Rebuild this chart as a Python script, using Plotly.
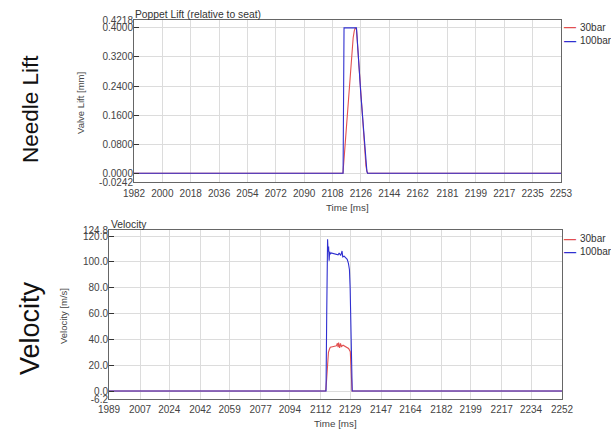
import plotly.graph_objects as go

W, H = 611, 432

# ---------------- data ----------------
series_names = ["30bar", "100bar"]
series_colors = ["#e25050", "#3030d0"]

# Poppet lift [mm] vs time [ms]
lift_t_30 = [1982, 2114.6, 2115.6, 2117.1, 2119.0, 2120.3, 2121.1, 2121.8, 2122.4, 2123.2,
             2126.0, 2129.2, 2129.8, 2130.2, 2253]
lift_v_30 = [0.0, 0.0, 0.056, 0.147, 0.237, 0.328, 0.373, 0.392, 0.400, 0.396,
             0.215, 0.020, 0.006, 0.0, 0.0]
lift_t_100 = [1982, 2114.7, 2115.3, 2123.2, 2126.0, 2129.2, 2129.8, 2130.2, 2253]
lift_v_100 = [0.0, 0.0, 0.400, 0.400, 0.215, 0.020, 0.006, 0.0, 0.0]

# Velocity [m/s] vs time [ms]
vel_t_30 = [1989, 2114.8, 2115.3, 2115.8, 2116.4, 2117.0, 2117.5, 2119.4, 2121.0, 2121.6,
            2122.0, 2122.3, 2122.9, 2123.4, 2123.9, 2124.9, 2126.2, 2128.1, 2129.1,
            2129.5, 2130.1, 2252]
vel_v_30 = [0.0, 0.0, 8.0, 20.0, 30.0, 32.5, 33.9, 34.5, 35.0, 37.0,
            34.0, 37.5, 33.5, 37.0, 34.5, 35.5, 34.5, 33.0, 30.5,
            15.0, 0.0, 0.0]
vel_t_100 = [1989, 2115.0, 2115.4, 2115.9, 2116.2, 2116.5, 2116.8, 2117.1, 2117.5, 2118.0,
             2119.0, 2120.0, 2121.0, 2122.0, 2122.6, 2123.5, 2124.3, 2124.7, 2125.5,
             2126.5, 2127.3, 2128.0, 2128.6, 2129.0, 2129.4, 2129.8, 2130.2, 2252]
vel_v_100 = [0.0, 0.0, 60.0, 117.6, 108.0, 112.0, 101.0, 108.0, 106.0, 107.0,
             106.5, 106.0, 106.0, 105.5, 107.0, 105.0, 108.5, 104.0, 104.5,
             103.5, 102.0, 99.0, 94.0, 80.0, 40.0, 5.0, 0.0, 0.0]

# axis ticks
lift_x_ticks = [1982, 2000, 2018, 2036, 2054, 2072, 2090, 2108, 2126, 2144, 2162,
                2181, 2199, 2217, 2235, 2253]
lift_y_ticks = [-0.0242, 0.0, 0.08, 0.16, 0.24, 0.32, 0.40, 0.4218]
vel_x_ticks = [1989, 2007, 2024, 2042, 2059, 2077, 2094, 2112, 2129, 2147, 2164,
               2182, 2199, 2217, 2234, 2252]
vel_y_ticks = [-6.2, 0.0, 20.0, 40.0, 60.0, 80.0, 100.0, 120.0, 124.8]

FONT = "Liberation Sans, Arial, sans-serif"
TICKC = "#444444"

def px_x(p):
    return p / W

def px_y(p):
    return 1 - p / H

fig = go.Figure()

for name, col, t, v in [(series_names[0], series_colors[0], lift_t_30, lift_v_30),
                        (series_names[1], series_colors[1], lift_t_100, lift_v_100)]:
    fig.add_trace(go.Scatter(x=t, y=v, mode="lines", name=name, showlegend=False,
                             line=dict(color=col, width=1.1), xaxis="x", yaxis="y"))
for name, col, t, v in [(series_names[0], series_colors[0], vel_t_30, vel_v_30),
                        (series_names[1], series_colors[1], vel_t_100, vel_v_100)]:
    fig.add_trace(go.Scatter(x=t, y=v, mode="lines", name=name, showlegend=False,
                             line=dict(color=col, width=1.1), xaxis="x2", yaxis="y2"))

axis_common = dict(showgrid=True, gridcolor="#dcdcdc", gridwidth=1, zeroline=False,
                   showline=True, linecolor="#666666", linewidth=1, mirror=True,
                   automargin=False,
                   tickfont=dict(family=FONT, size=10, color=TICKC))

fig.update_layout(
    width=W, height=H, autosize=False,
    margin=dict(l=0, r=0, t=0, b=0, pad=0),
    showlegend=False,
    paper_bgcolor="white", plot_bgcolor="white",
    xaxis=dict(domain=[px_x(134), px_x(561)], anchor="y",
               range=[lift_x_ticks[0], lift_x_ticks[-1]],
               tickmode="array", tickvals=lift_x_ticks,
               ticktext=[str(v) for v in lift_x_ticks], ticks="",
               ticklabelstandoff=2, **axis_common),
    yaxis=dict(domain=[px_y(182), px_y(20)], anchor="x",
               range=[lift_y_ticks[0], lift_y_ticks[-1]],
               tickmode="array", tickvals=lift_y_ticks,
               ticktext=["%.4f" % v for v in lift_y_ticks],
               ticks="inside", ticklen=5, tickcolor="#333333",
               ticklabelstandoff=-2, **axis_common),
    xaxis2=dict(domain=[px_x(109), px_x(562)], anchor="y2",
                range=[vel_x_ticks[0], vel_x_ticks[-1]],
                tickmode="array", tickvals=vel_x_ticks,
                ticktext=[str(v) for v in vel_x_ticks], ticks="",
                ticklabelstandoff=1, **axis_common),
    yaxis2=dict(domain=[px_y(399), px_y(230)], anchor="x2",
                range=[vel_y_ticks[0], vel_y_ticks[-1]],
                tickmode="array", tickvals=vel_y_ticks,
                ticktext=["%.1f" % v for v in vel_y_ticks],
                ticks="inside", ticklen=5, tickcolor="#333333",
                ticklabelstandoff=-2, **axis_common),
)

ann = []

def text(x, y, s, size, color="#333333", xanchor="center", yanchor="middle", angle=0):
    ann.append(dict(x=px_x(x), y=px_y(y), xref="paper", yref="paper", text=s,
                    showarrow=False, xanchor=xanchor, yanchor=yanchor, textangle=angle,
                    font=dict(family=FONT, size=size, color=color)))

# chart titles
text(133, 15, "Poppet Lift (relative to seat)", 10.3, "#333333", xanchor="left")
text(109, 224.5, "Velocity", 10.3, "#333333", xanchor="left")
# axis titles
text(80, 103, "Valve Lift [mm]", 9.5, "#444444", angle=-90)
text(63, 316, "Velocity [m/s]", 9.5, "#444444", angle=-90)
text(347.5, 207.5, "Time [ms]", 9.8, "#444444")
text(335.5, 423.5, "Time [ms]", 9.8, "#444444")
# big side labels
text(30, 109, "Needle Lift", 22.5, "#111111", angle=-90)
text(30, 328, "Velocity", 27, "#111111", angle=-90)

# legends
for base_y, step in [(27, 13.6), (238.5, 13.4)]:
    for i, (nm, col) in enumerate(zip(series_names, series_colors)):
        yy = base_y + i * step
        text(562, yy, "<b>\u2014</b>", 12, col, xanchor="left")
        text(578, yy, nm, 10, "#333333", xanchor="left")

fig.update_layout(annotations=ann)

fig.write_html("out.html",
               config={"displayModeBar": False},
               post_script="document.body.style.margin='0px';"
                           "document.body.style.overflow='hidden';")
